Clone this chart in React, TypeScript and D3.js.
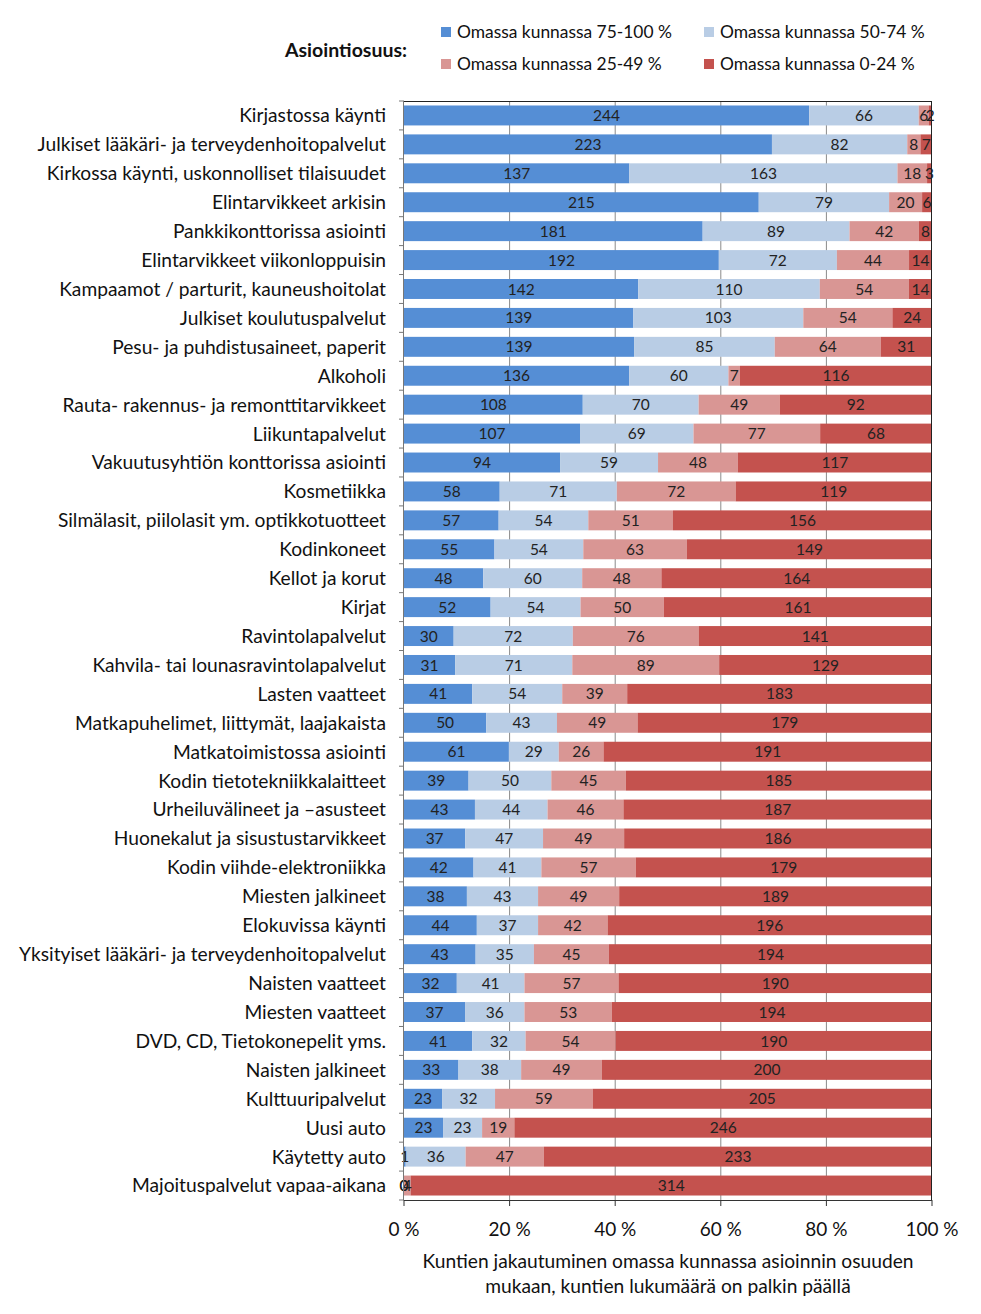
import React, { useEffect, useRef } from 'react';
import * as d3 from 'd3';

const categories = [
  'Kirjastossa käynti',
  'Julkiset lääkäri- ja terveydenhoitopalvelut',
  'Kirkossa käynti, uskonnolliset tilaisuudet',
  'Elintarvikkeet arkisin',
  'Pankkikonttorissa asiointi',
  'Elintarvikkeet viikonloppuisin',
  'Kampaamot / parturit, kauneushoitolat',
  'Julkiset koulutuspalvelut',
  'Pesu- ja puhdistusaineet, paperit',
  'Alkoholi',
  'Rauta- rakennus- ja remonttitarvikkeet',
  'Liikuntapalvelut',
  'Vakuutusyhtiön konttorissa asiointi',
  'Kosmetiikka',
  'Silmälasit, piilolasit ym. optikkotuotteet',
  'Kodinkoneet',
  'Kellot ja korut',
  'Kirjat',
  'Ravintolapalvelut',
  'Kahvila- tai lounasravintolapalvelut',
  'Lasten vaatteet',
  'Matkapuhelimet, liittymät, laajakaista',
  'Matkatoimistossa asiointi',
  'Kodin tietotekniikkalaitteet',
  'Urheiluvälineet ja –asusteet',
  'Huonekalut ja sisustustarvikkeet',
  'Kodin viihde-elektroniikka',
  'Miesten jalkineet',
  'Elokuvissa käynti',
  'Yksityiset lääkäri- ja terveydenhoitopalvelut',
  'Naisten vaatteet',
  'Miesten vaatteet',
  'DVD, CD, Tietokonepelit yms.',
  'Naisten jalkineet',
  'Kulttuuripalvelut',
  'Uusi auto',
  'Käytetty auto',
  'Majoituspalvelut vapaa-aikana',
];

const share75to100 = [244, 223, 137, 215, 181, 192, 142, 139, 139, 136, 108, 107, 94, 58, 57, 55, 48, 52, 30, 31, 41, 50, 61, 39, 43, 37, 42, 38, 44, 43, 32, 37, 41, 33, 23, 23, 1, 0];
const share50to74 = [66, 82, 163, 79, 89, 72, 110, 103, 85, 60, 70, 69, 59, 71, 54, 54, 60, 54, 72, 71, 54, 43, 29, 50, 44, 47, 41, 43, 37, 35, 41, 36, 32, 38, 32, 23, 36, 0];
const share25to49 = [6, 8, 18, 20, 42, 44, 54, 54, 64, 7, 49, 77, 48, 72, 51, 63, 48, 50, 76, 89, 39, 49, 26, 45, 46, 49, 57, 49, 42, 45, 57, 53, 54, 49, 59, 19, 47, 4];
const share0to24 = [2, 7, 3, 6, 8, 14, 14, 24, 31, 116, 92, 68, 117, 119, 156, 149, 164, 161, 141, 129, 183, 179, 191, 185, 187, 186, 179, 189, 196, 194, 190, 194, 190, 200, 205, 246, 233, 314];

const seriesNames = ['Omassa kunnassa 75-100 %', 'Omassa kunnassa 50-74 %', 'Omassa kunnassa 25-49 %', 'Omassa kunnassa 0-24 %'];
const seriesColors = ['#558ed5', '#b9cde5', '#d99694', '#c4524e'];
const xTicks = [0, 0.2, 0.4, 0.6, 0.8, 1];

const FONT = 'Lato, "Liberation Sans", sans-serif';

export default function App() {
  const svgRef = useRef<SVGSVGElement>(null);

  useEffect(() => {
    if (!svgRef.current) return;
    const svg = d3.select(svgRef.current);
    svg.selectAll('*').remove();

    const left = 404, right = 932, top = 101, bottom = 1200;
    const series = [share75to100, share50to74, share25to49, share0to24];

    const x = d3.scaleLinear().domain([0, 1]).range([left, right]);
    const y = d3.scaleBand<string>().domain(categories).range([top, bottom])
      .paddingInner(0.31).paddingOuter(0.155);

    // gridlines
    svg.append('g').selectAll('line').data(xTicks.slice(1, -1)).join('line')
      .attr('x1', d => x(d)).attr('x2', d => x(d))
      .attr('y1', top).attr('y2', bottom)
      .attr('stroke', '#8a8a8a').attr('stroke-width', 1);

    // bars
    const rows = categories.map((c, i) => {
      const vals = series.map(s => s[i]);
      const total = d3.sum(vals);
      let acc = 0;
      return vals.map((v, k) => {
        const seg = { cat: c, k, v, x0: acc / total, x1: (acc + v) / total };
        acc += v;
        return seg;
      });
    }).flat();

    svg.append('g').selectAll('rect').data(rows).join('rect')
      .attr('x', d => x(d.x0))
      .attr('width', d => x(d.x1) - x(d.x0))
      .attr('y', d => y(d.cat)!)
      .attr('height', y.bandwidth())
      .attr('fill', d => seriesColors[d.k]);

    svg.append('g').selectAll('text').data(rows).join('text')
      .attr('x', d => (x(d.x0) + x(d.x1)) / 2)
      .attr('y', d => y(d.cat)! + y.bandwidth() / 2)
      .attr('dy', '0.36em')
      .attr('text-anchor', 'middle')
      .attr('font-family', FONT)
      .attr('font-size', 15.5)
      .attr('fill', '#222')
      .text(d => d.v);

    // plot border (top/right)
    svg.append('line').attr('x1', left).attr('x2', right).attr('y1', top + 0.5).attr('y2', top + 0.5)
      .attr('stroke', '#222');
    svg.append('line').attr('x1', right - 0.5).attr('x2', right - 0.5).attr('y1', top).attr('y2', bottom)
      .attr('stroke', '#222');

    // left axis
    const yAxis = svg.append('g');
    yAxis.append('line').attr('x1', left - 0.5).attr('x2', left - 0.5).attr('y1', top).attr('y2', bottom)
      .attr('stroke', '#777');
    const bounds = d3.range(categories.length + 1).map(i => top + i * y.step());
    yAxis.selectAll('line.tk').data(bounds).join('line').attr('class', 'tk')
      .attr('x1', left - 5).attr('x2', left).attr('y1', d => d).attr('y2', d => d)
      .attr('stroke', '#777');
    yAxis.selectAll('text').data(categories).join('text')
      .attr('x', 386)
      .attr('y', d => y(d)! + y.bandwidth() / 2)
      .attr('dy', '0.36em')
      .attr('text-anchor', 'end')
      .attr('font-family', FONT)
      .attr('font-size', 19.2)
      .attr('fill', '#111')
      .text(d => d);

    // bottom axis
    const xAxis = svg.append('g');
    xAxis.append('line').attr('x1', left).attr('x2', right).attr('y1', bottom + 0.5).attr('y2', bottom + 0.5)
      .attr('stroke', '#333');
    xAxis.selectAll('line.tk').data(xTicks).join('line').attr('class', 'tk')
      .attr('x1', d => x(d)).attr('x2', d => x(d)).attr('y1', bottom).attr('y2', bottom + 6)
      .attr('stroke', '#333');
    xAxis.selectAll('text').data(xTicks).join('text')
      .attr('x', d => x(d))
      .attr('y', 1236)
      .attr('text-anchor', 'middle')
      .attr('font-family', FONT)
      .attr('font-size', 19)
      .attr('fill', '#111')
      .text(d => `${Math.round(d * 100)} %`);

    const title = svg.append('text')
      .attr('text-anchor', 'middle')
      .attr('font-family', FONT)
      .attr('font-size', 19.2)
      .attr('fill', '#111');
    title.append('tspan').attr('x', 668).attr('y', 1268).text('Kuntien jakautuminen omassa kunnassa asioinnin osuuden');
    title.append('tspan').attr('x', 668).attr('y', 1293).text('mukaan, kuntien lukumäärä on palkin päällä');

    // legend
    svg.append('text')
      .attr('x', 285).attr('y', 57)
      .attr('font-family', FONT)
      .attr('font-weight', 'bold')
      .attr('font-size', 19.5)
      .attr('fill', '#111')
      .text('Asiointiosuus:');

    const lx = [441, 704];
    const ly = [32, 64];
    const leg = svg.append('g').selectAll('g').data(seriesNames).join('g')
      .attr('transform', (d, i) => `translate(${lx[i % 2]},${ly[Math.floor(i / 2)]})`);
    leg.append('rect').attr('x', 0).attr('y', -5).attr('width', 10).attr('height', 10)
      .attr('fill', (d, i) => seriesColors[i]);
    leg.append('text').attr('x', 16).attr('dy', '0.36em')
      .attr('font-family', FONT)
      .attr('font-size', 17.4)
      .attr('fill', '#111')
      .text(d => d);
  }, []);

  return (
    <div style={{ position: 'absolute', left: 0, top: 0, background: '#fff' }}>
      <svg ref={svgRef} width={981} height={1314} style={{ display: 'block' }} />
    </div>
  );
}
